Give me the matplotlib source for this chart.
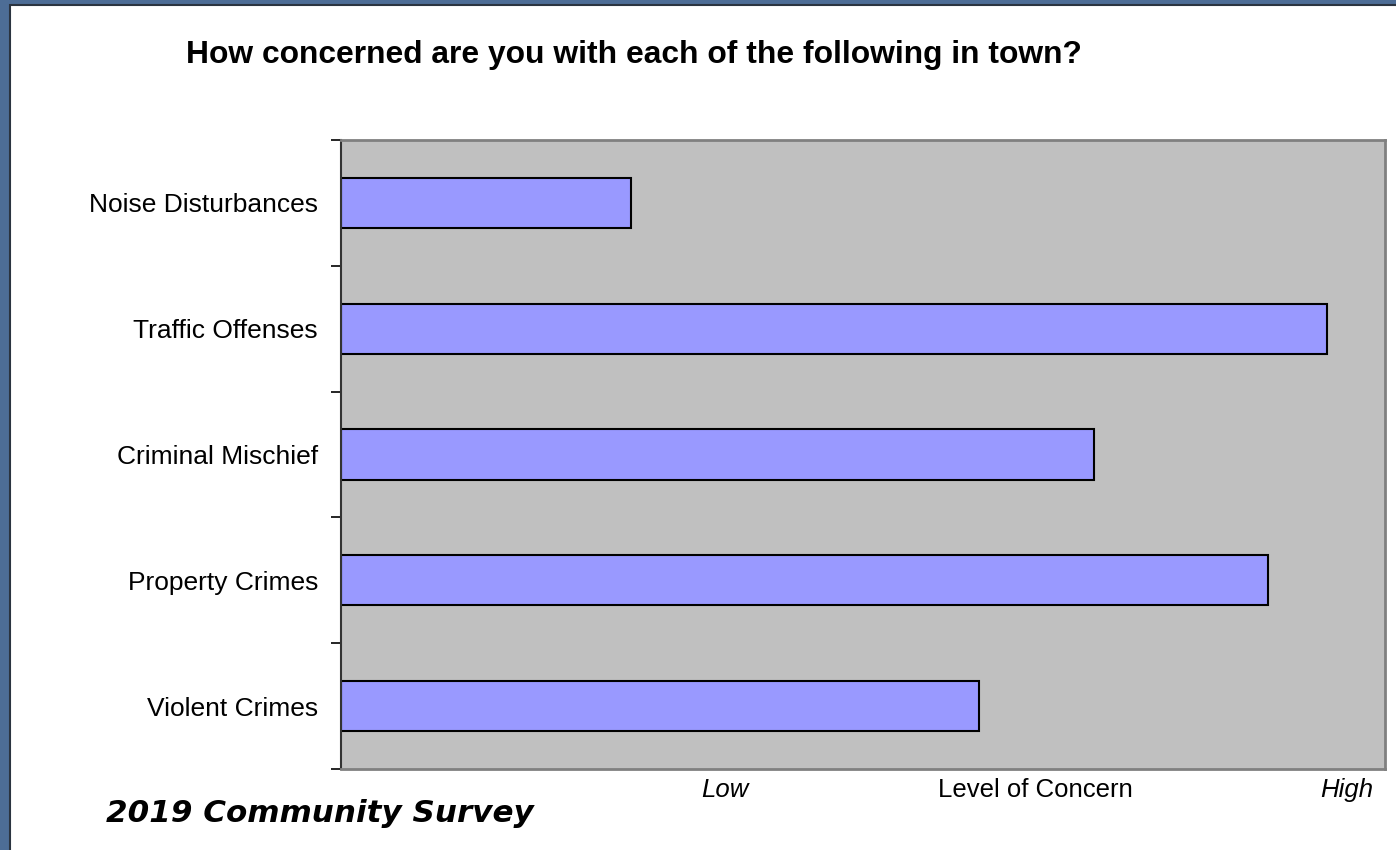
import matplotlib.pyplot as plt
from matplotlib.patches import Rectangle
import numpy as np

# survey categories, top to bottom, and their level of concern (0 = none, 1 = axis end)
categories = ["Noise Disturbances", "Traffic Offenses", "Criminal Mischief",
              "Property Crimes", "Violent Crimes"]
concern = [0.278, 0.944, 0.721, 0.888, 0.611]

title = "How concerned are you with each of the following in town?"
footer = "2019 Community Survey"

plt.rcParams['font.family'] = ['Liberation Sans', 'DejaVu Sans']

fig = plt.figure(figsize=(13.96, 8.5), dpi=100)
fig.patch.set_facecolor("#4d6d96")

# white slide panel over the blue background (runs off the right and bottom edges)
panel = Rectangle((10 / 1396, -0.05), 1.05, 1.05 - 5 / 850,
                  transform=fig.transFigure, facecolor="white",
                  edgecolor="#2b3440", linewidth=1.5, zorder=-10)
fig.patches.append(panel)

ax = fig.add_axes([341 / 1396, 1 - 769 / 850, 1044 / 1396, 629 / 850])
ax.set_facecolor("#c0c0c0")

y = np.arange(len(categories))
ax.barh(y, concern, height=0.4, color="#9999ff", edgecolor="black", linewidth=1.5)

ax.set_xlim(0, 1)
ax.set_ylim(len(categories) - 0.5, -0.5)

ax.set_yticks(y)
ax.set_yticklabels(categories, fontsize=19)
ax.tick_params(axis="y", which="major", length=0, pad=16.5)
ax.set_yticks(np.arange(len(categories) + 1) - 0.5, minor=True)
ax.tick_params(axis="y", which="minor", length=7, width=1.2, color="black", direction="out")
ax.set_xticks([])

ax.spines["left"].set_color("#333333")
ax.spines["left"].set_linewidth(1.5)
for s in ["top", "right", "bottom"]:
    ax.spines[s].set_color("#808080")
    ax.spines[s].set_linewidth(2)

fig.text(634 / 1396, 1 - 55 / 850, title, fontsize=22.9, fontweight="bold",
         ha="center", va="center")
fig.text(725 / 1396, 1 - 790 / 850, "Low", fontsize=18.5, style="italic",
         ha="center", va="center")
fig.text(1035 / 1396, 1 - 790 / 850, "Level of Concern", fontsize=18.5,
         ha="center", va="center")
fig.text(1347 / 1396, 1 - 790 / 850, "High", fontsize=18.5, style="italic",
         ha="center", va="center")
fig.text(320 / 1396, 1 - 813 / 850, footer, fontsize=22.3, fontweight="bold",
         style="italic", family=["DejaVu Sans"], ha="center", va="center")

fig.savefig("out.png", dpi=100, facecolor=fig.get_facecolor())
